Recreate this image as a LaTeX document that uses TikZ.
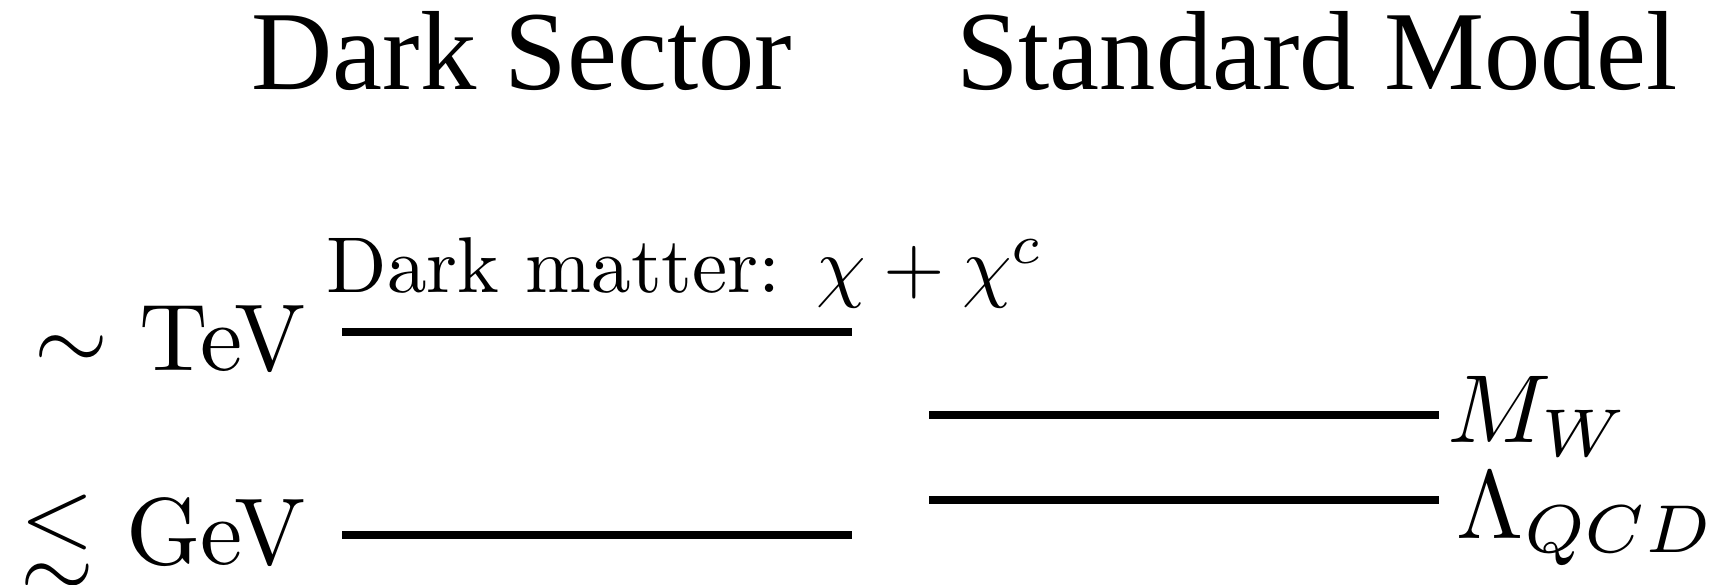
\RequirePackage{fix-cm}
\documentclass[tikz,border=0pt]{standalone}
\usepackage{amsmath,amssymb}
\usepackage{fontspec}
\newfontfamily\timesfont{Liberation Serif}
\usepackage{tikz}
\usetikzlibrary{positioning}

\begin{document}
\begin{tikzpicture}[
    % Styles
    x=0.01cm, y=-0.01cm,
    level/.style={line width=2.2pt},
    heading/.style={
        font=\timesfont\fontsize{32}{38}\selectfont,
        inner sep=0pt,
        anchor=base
    },
    scale_label/.style={
        font=\normalsize,
        inner sep=0pt,
        scale=2.7
    },
    sm_label/.style={
        font=\normalsize,
        inner sep=0pt,
        scale=2.75,
        anchor=base west
    },
    dm_label/.style={
        font=\normalsize,
        inner sep=0pt,
        scale=2.25,
        anchor=base west
    }
]

\useasboundingbox (0,0) rectangle (1715,585);

% --- HEADINGS ---
\node[heading] (dark) at (522,90) {Dark Sector};
\node[heading] (sm) at (1317,90) {Standard Model};

% --- DARK SECTOR ---
\coordinate (tev_l) at (342,332);
\coordinate (tev_r) at (852,332);
\coordinate (gev_l) at (342,535);
\coordinate (gev_r) at (852,535);
\draw[level] (tev_l) -- (tev_r);
\draw[level] (gev_l) -- (gev_r);

\node[scale_label, anchor=base east] (tev) at (308,370) {$\sim$ TeV};
\node[scale_label, anchor=base east] (gev) at (308,564) {$\lesssim$ GeV};
\node[dm_label] (dm) at (325,292) {Dark matter: $\chi + \chi^c$};

% --- STANDARD MODEL ---
\coordinate (mw_l) at (929,415);
\coordinate (mw_r) at (1439,415);
\coordinate (qcd_l) at (929,500);
\coordinate (qcd_r) at (1439,500);
\draw[level] (mw_l) -- (mw_r);
\draw[level] (qcd_l) -- (qcd_r);

\node[sm_label] (mw) at (1446,442) {$M_W$};
\node[sm_label] (qcd) at (1455,538) {$\Lambda_{QCD}$};

\end{tikzpicture}
\end{document}
